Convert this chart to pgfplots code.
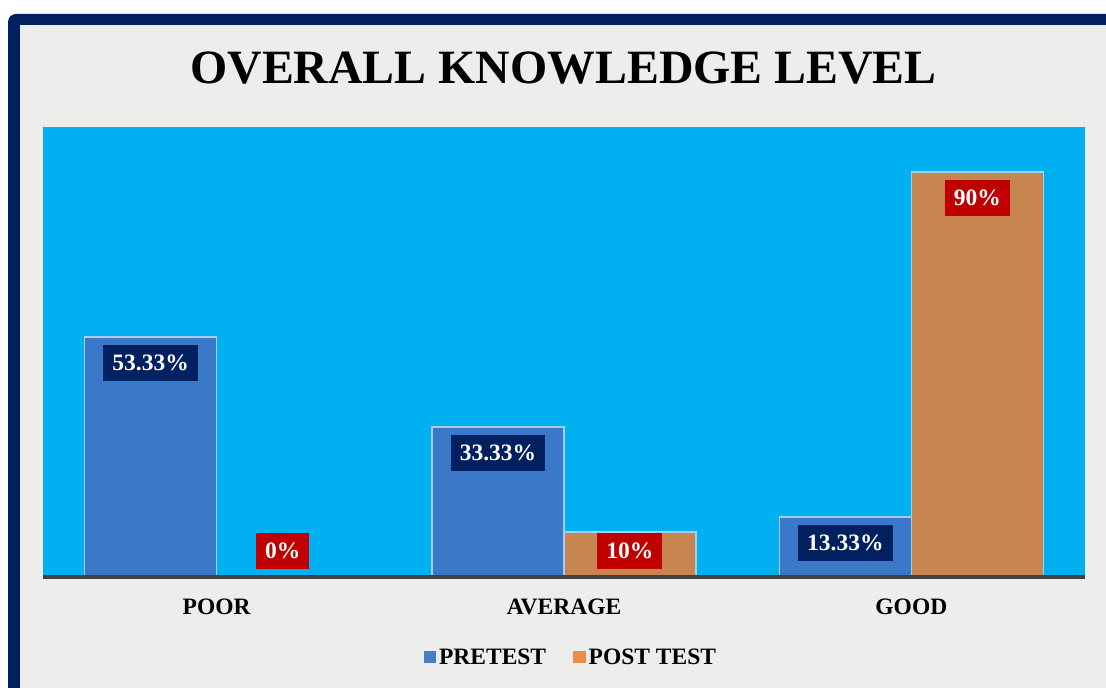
\documentclass[border=0pt]{standalone}
\usepackage{pgfplots}
\pgfplotsset{compat=1.18}
\usepackage{fontspec}
\setmainfont{Liberation Serif}
\definecolor{navy}{HTML}{002060}
\definecolor{bggrey}{HTML}{EDEDEB}
\definecolor{plotblue}{HTML}{00B0F0}
\definecolor{prebar}{HTML}{3A79C9}
\definecolor{postbar}{HTML}{C78550}
\definecolor{barborder}{HTML}{A9CCEB}
\definecolor{labred}{HTML}{C00000}
\definecolor{axisgrey}{HTML}{404040}
\definecolor{legblue}{HTML}{4A7CCB}
\definecolor{legorange}{HTML}{EE8A45}
\newcommand\lab{\bfseries\fontsize{23.5bp}{28bp}\selectfont}
\begin{document}
\begin{tikzpicture}
\useasboundingbox (0,0) rectangle (1106bp,688bp);
\clip (0,0) rectangle (1106bp,688bp);
\fill[white] (0,0) rectangle (1106bp,688bp);
\fill[navy,rounded corners=8bp] (8bp,-40bp) rectangle (1200bp,674bp);
\fill[bggrey] (20bp,-40bp) rectangle (1200bp,663bp);
\node[anchor=base, inner sep=0pt, font=\bfseries\fontsize{47.8bp}{57bp}\selectfont] at (563.5bp,604bp) {OVERALL KNOWLEDGE LEVEL};
\begin{axis}[
  at={(43bp,111bp)}, anchor=south west,
  scale only axis, width=1042bp, height=450bp,
  xmin=-0.5, xmax=2.5, ymin=0, ymax=100,
  axis background/.style={fill=plotblue},
  axis x line*=bottom, axis y line=none,
  x axis line style={line width=3bp, draw=axisgrey, -},
  xtick={0,1,2}, xticklabels={POOR,AVERAGE,GOOD},
  major tick length=0pt,
  xticklabel style={font=\lab, anchor=base, yshift=-37bp, inner sep=0pt},
  ytick=\empty,
  axis on top,
  clip=false,
  legend style={at={(0.5070,-0.1778)}, anchor=center, draw=none, fill=none,
    legend columns=2, font=\lab, nodes={inner sep=3bp},
    /tikz/every even column/.append style={column sep=24bp}},
  legend cell align=left,
]
\addplot[ybar, bar width=132bp, bar shift=-66bp, fill=prebar, draw=barborder, line width=1.5bp,
  legend image code/.code={\fill[legblue] (0bp,-5.5bp) rectangle (11bp,5.5bp);}]
  coordinates {(0,53.33) (1,33.33) (2,13.33)};
\addlegendentry{PRETEST}
\addplot[ybar, bar width=132bp, bar shift=66bp, fill=postbar, draw=barborder, line width=1.5bp,
  legend image code/.code={\fill[legorange] (0bp,-5.5bp) rectangle (11bp,5.5bp);}]
  coordinates {(0,0) (1,10) (2,90)};
\addlegendentry{POST TEST}
\addplot[only marks, mark=none, forget plot, point meta=explicit symbolic, nodes near coords,
  nodes near coords style={anchor=center, fill=navy, text=white, font=\lab, inner xsep=9bp, inner ysep=0pt, minimum height=36bp}]
  coordinates {(-0.19,47.55) [53.33\%] (0.81,27.55) [33.33\%] (1.81,7.55) [13.33\%]};
\addplot[only marks, mark=none, forget plot, point meta=explicit symbolic, nodes near coords,
  nodes near coords style={anchor=center, fill=labred, text=white, font=\lab, inner xsep=9bp, inner ysep=0pt, minimum height=36bp}]
  coordinates {(0.19,5.78) [0\%] (1.19,5.78) [10\%] (2.19,84.22) [90\%]};
\end{axis}
\end{tikzpicture}
\end{document}
